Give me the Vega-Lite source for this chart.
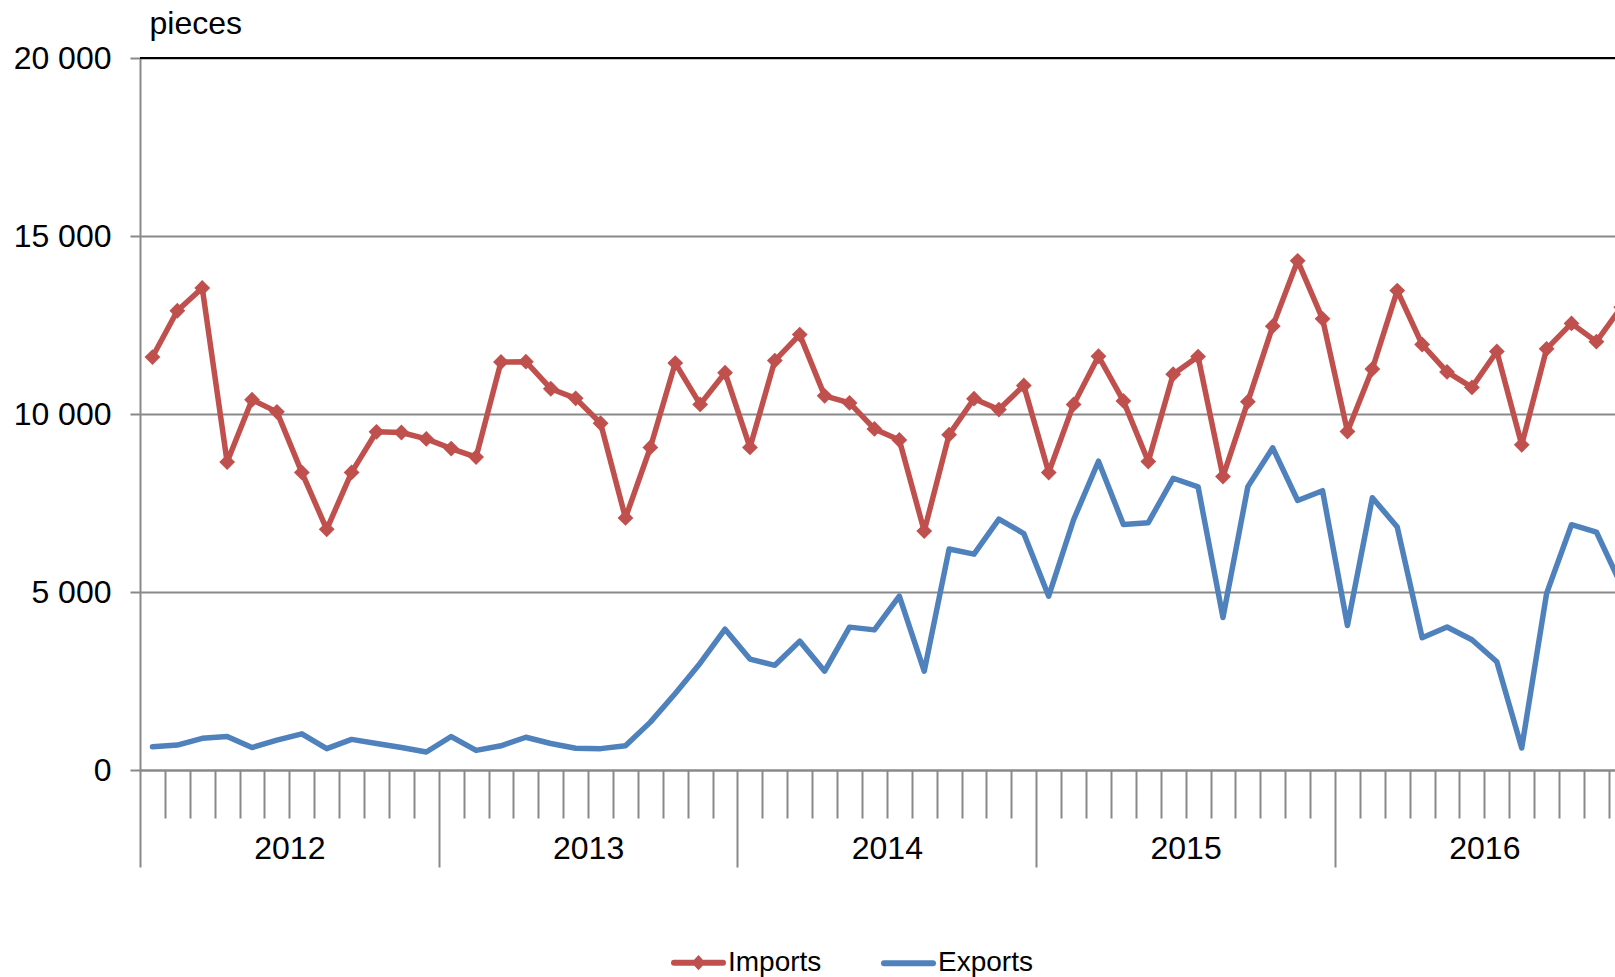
{
"$schema": "https://vega.github.io/schema/vega-lite/v6.json",
"width": 1475,
"height": 712,
"autosize": {"type": "none"},
"padding": {"left": 140, "top": 58, "right": 0, "bottom": 207},
"background": "white",
"config": {"font": "Liberation Sans", "view": {"stroke": null}},
"data": {"values": [
{"month":"2012-01","t":0.5,"series":"Imports","value":11600},{"month":"2012-02","t":1.5,"series":"Imports","value":12900},{"month":"2012-03","t":2.5,"series":"Imports","value":13540},{"month":"2012-04","t":3.5,"series":"Imports","value":8650},{"month":"2012-05","t":4.5,"series":"Imports","value":10400},{"month":"2012-06","t":5.5,"series":"Imports","value":10060},{"month":"2012-07","t":6.5,"series":"Imports","value":8360},{"month":"2012-08","t":7.5,"series":"Imports","value":6760},{"month":"2012-09","t":8.5,"series":"Imports","value":8360},{"month":"2012-10","t":9.5,"series":"Imports","value":9500},{"month":"2012-11","t":10.5,"series":"Imports","value":9480},{"month":"2012-12","t":11.5,"series":"Imports","value":9300},
{"month":"2013-01","t":12.5,"series":"Imports","value":9030},{"month":"2013-02","t":13.5,"series":"Imports","value":8790},{"month":"2013-03","t":14.5,"series":"Imports","value":11460},{"month":"2013-04","t":15.5,"series":"Imports","value":11470},{"month":"2013-05","t":16.5,"series":"Imports","value":10710},{"month":"2013-06","t":17.5,"series":"Imports","value":10440},{"month":"2013-07","t":18.5,"series":"Imports","value":9740},{"month":"2013-08","t":19.5,"series":"Imports","value":7080},{"month":"2013-09","t":20.5,"series":"Imports","value":9060},{"month":"2013-10","t":21.5,"series":"Imports","value":11430},{"month":"2013-11","t":22.5,"series":"Imports","value":10270},{"month":"2013-12","t":23.5,"series":"Imports","value":11160},
{"month":"2014-01","t":24.5,"series":"Imports","value":9060},{"month":"2014-02","t":25.5,"series":"Imports","value":11500},{"month":"2014-03","t":26.5,"series":"Imports","value":12230},{"month":"2014-04","t":27.5,"series":"Imports","value":10510},{"month":"2014-05","t":28.5,"series":"Imports","value":10310},{"month":"2014-06","t":29.5,"series":"Imports","value":9580},{"month":"2014-07","t":30.5,"series":"Imports","value":9270},{"month":"2014-08","t":31.5,"series":"Imports","value":6710},{"month":"2014-09","t":32.5,"series":"Imports","value":9420},{"month":"2014-10","t":33.5,"series":"Imports","value":10430},{"month":"2014-11","t":34.5,"series":"Imports","value":10125},{"month":"2014-12","t":35.5,"series":"Imports","value":10800},
{"month":"2015-01","t":36.5,"series":"Imports","value":8355},{"month":"2015-02","t":37.5,"series":"Imports","value":10270},{"month":"2015-03","t":38.5,"series":"Imports","value":11623},{"month":"2015-04","t":39.5,"series":"Imports","value":10368},{"month":"2015-05","t":40.5,"series":"Imports","value":8664},{"month":"2015-06","t":41.5,"series":"Imports","value":11118},{"month":"2015-07","t":42.5,"series":"Imports","value":11612},{"month":"2015-08","t":43.5,"series":"Imports","value":8243},{"month":"2015-09","t":44.5,"series":"Imports","value":10346},{"month":"2015-10","t":45.5,"series":"Imports","value":12468},{"month":"2015-11","t":46.5,"series":"Imports","value":14303},{"month":"2015-12","t":47.5,"series":"Imports","value":12674},
{"month":"2016-01","t":48.5,"series":"Imports","value":9509},{"month":"2016-02","t":49.5,"series":"Imports","value":11264},{"month":"2016-03","t":50.5,"series":"Imports","value":13466},{"month":"2016-04","t":51.5,"series":"Imports","value":11952},{"month":"2016-05","t":52.5,"series":"Imports","value":11183},{"month":"2016-06","t":53.5,"series":"Imports","value":10747},{"month":"2016-07","t":54.5,"series":"Imports","value":11757},{"month":"2016-08","t":55.5,"series":"Imports","value":9135},{"month":"2016-09","t":56.5,"series":"Imports","value":11830},{"month":"2016-10","t":57.5,"series":"Imports","value":12545},{"month":"2016-11","t":58.5,"series":"Imports","value":12032},{"month":"2016-12","t":59.5,"series":"Imports","value":13000},
{"month":"2012-01","t":0.5,"series":"Exports","value":650},{"month":"2012-02","t":1.5,"series":"Exports","value":700},{"month":"2012-03","t":2.5,"series":"Exports","value":890},{"month":"2012-04","t":3.5,"series":"Exports","value":940},{"month":"2012-05","t":4.5,"series":"Exports","value":630},{"month":"2012-06","t":5.5,"series":"Exports","value":840},{"month":"2012-07","t":6.5,"series":"Exports","value":1015},{"month":"2012-08","t":7.5,"series":"Exports","value":600},{"month":"2012-09","t":8.5,"series":"Exports","value":860},{"month":"2012-10","t":9.5,"series":"Exports","value":745},{"month":"2012-11","t":10.5,"series":"Exports","value":630},{"month":"2012-12","t":11.5,"series":"Exports","value":505},
{"month":"2013-01","t":12.5,"series":"Exports","value":940},{"month":"2013-02","t":13.5,"series":"Exports","value":550},{"month":"2013-03","t":14.5,"series":"Exports","value":680},{"month":"2013-04","t":15.5,"series":"Exports","value":920},{"month":"2013-05","t":16.5,"series":"Exports","value":745},{"month":"2013-06","t":17.5,"series":"Exports","value":610},{"month":"2013-07","t":18.5,"series":"Exports","value":600},{"month":"2013-08","t":19.5,"series":"Exports","value":680},{"month":"2013-09","t":20.5,"series":"Exports","value":1345},{"month":"2013-10","t":21.5,"series":"Exports","value":2150},{"month":"2013-11","t":22.5,"series":"Exports","value":3000},{"month":"2013-12","t":23.5,"series":"Exports","value":3955},
{"month":"2014-01","t":24.5,"series":"Exports","value":3115},{"month":"2014-02","t":25.5,"series":"Exports","value":2940},{"month":"2014-03","t":26.5,"series":"Exports","value":3620},{"month":"2014-04","t":27.5,"series":"Exports","value":2775},{"month":"2014-05","t":28.5,"series":"Exports","value":4013},{"month":"2014-06","t":29.5,"series":"Exports","value":3936},{"month":"2014-07","t":30.5,"series":"Exports","value":4883},{"month":"2014-08","t":31.5,"series":"Exports","value":2775},{"month":"2014-09","t":32.5,"series":"Exports","value":6208},{"month":"2014-10","t":33.5,"series":"Exports","value":6063},{"month":"2014-11","t":34.5,"series":"Exports","value":7049},{"month":"2014-12","t":35.5,"series":"Exports","value":6643},
{"month":"2015-01","t":36.5,"series":"Exports","value":4883},{"month":"2015-02","t":37.5,"series":"Exports","value":7030},{"month":"2015-03","t":38.5,"series":"Exports","value":8674},{"month":"2015-04","t":39.5,"series":"Exports","value":6895},{"month":"2015-05","t":40.5,"series":"Exports","value":6948},{"month":"2015-06","t":41.5,"series":"Exports","value":8195},{"month":"2015-07","t":42.5,"series":"Exports","value":7955},{"month":"2015-08","t":43.5,"series":"Exports","value":4282},{"month":"2015-09","t":44.5,"series":"Exports","value":7960},{"month":"2015-10","t":45.5,"series":"Exports","value":9050},{"month":"2015-11","t":46.5,"series":"Exports","value":7570},{"month":"2015-12","t":47.5,"series":"Exports","value":7845},
{"month":"2016-01","t":48.5,"series":"Exports","value":4060},{"month":"2016-02","t":49.5,"series":"Exports","value":7650},{"month":"2016-03","t":50.5,"series":"Exports","value":6825},{"month":"2016-04","t":51.5,"series":"Exports","value":3716},{"month":"2016-05","t":52.5,"series":"Exports","value":4015},{"month":"2016-06","t":53.5,"series":"Exports","value":3659},{"month":"2016-07","t":54.5,"series":"Exports","value":3040},{"month":"2016-08","t":55.5,"series":"Exports","value":619},{"month":"2016-09","t":56.5,"series":"Exports","value":4960},{"month":"2016-10","t":57.5,"series":"Exports","value":6890},{"month":"2016-11","t":58.5,"series":"Exports","value":6685},{"month":"2016-12","t":59.5,"series":"Exports","value":5190}
]},
"layer": [
  {"mark": {"type": "line", "strokeWidth": 5.5, "strokeJoin": "round", "strokeCap": "round", "clip": true},
   "encoding": {
     "x": {"field": "t", "type": "quantitative",
       "scale": {"domain": [0, 59.247], "nice": false, "zero": false},
       "axis": {"orient": "bottom", "values": [0,1,2,3,4,5,6,7,8,9,10,11,12,13,14,15,16,17,18,19,20,21,22,23,24,25,26,27,28,29,30,31,32,33,34,35,36,37,38,39,40,41,42,43,44,45,46,47,48,49,50,51,52,53,54,55,56,57,58,59],
         "labels": false, "grid": false, "title": null,
         "domainColor": "#898989", "domainWidth": 2, "tickColor": "#898989", "tickWidth": 2,
         "tickSize": {"condition": {"test": "datum.value % 12 === 0", "value": 97}, "value": 48}}},
     "y": {"field": "value", "type": "quantitative",
       "scale": {"domain": [0, 20000], "nice": false, "zero": true},
       "axis": {"orient": "left", "values": [0, 5000, 10000, 15000, 20000], "grid": true, "gridColor": "#898989", "gridWidth": 2,
         "domainColor": "#898989", "domainWidth": 2, "tickColor": "#898989", "tickWidth": 2, "tickSize": 10,
         "labelFontSize": 32, "labelFont": "Liberation Sans", "labelColor": "#000000", "labelPadding": 19,
         "labelBaseline": "middle", "labelFlush": false, "labelOverlap": false,
         "labelExpr": "replace(format(datum.value, ','), ',', ' ')",
         "title": "pieces", "titleAngle": 0, "titleAlign": "left", "titleBaseline": "alphabetic",
         "titleX": 9, "titleY": -25, "titleFontSize": 32, "titleFontWeight": "normal", "titleFont": "Liberation Sans", "titleColor": "#000000"}},
     "color": {"field": "series", "type": "nominal",
       "scale": {"domain": ["Imports", "Exports"], "range": ["#C0504D", "#4F81BD"]},
       "legend": {"orient": "none", "legendX": 531, "legendY": 877, "direction": "horizontal", "title": null,
         "labelFontSize": 28, "labelFont": "Liberation Sans", "labelColor": "#000000", "labelOffset": 2,
         "symbolSize": 2401, "symbolStrokeWidth": 6, "columnPadding": 50, "symbolType": "M-1,0H1",
         "encode": {"symbols": {"update": {
           "shape": {"signal": "datum.value === 'Imports' ? 'M-1,0H1M-0.12,0L0,-0.13L0.12,0L0,0.13Z' : 'M-1,0H1'"},
           "fill": {"signal": "datum.value === 'Imports' ? '#C0504D' : 'transparent'"},
           "strokeCap": {"value": "round"}}}}}}
   }},
  {"transform": [{"filter": "datum.series === 'Imports'"}],
   "mark": {"type": "point", "shape": "diamond", "filled": true, "size": 250, "color": "#C0504D", "opacity": 1, "clip": true},
   "encoding": {
     "x": {"field": "t", "type": "quantitative",
       "scale": {"domain": [0, 59.247], "nice": false, "zero": false},
       "axis": {"orient": "bottom", "values": [6, 18, 30, 42, 54], "ticks": false, "domain": false, "grid": false, "title": null,
         "labelExpr": "'' + (2012 + floor(datum.value / 12))", "labelFontSize": 32, "labelFont": "Liberation Sans",
         "labelColor": "#000000", "labelPadding": 88, "labelBaseline": "alphabetic", "labelFlush": false, "labelOverlap": false}},
     "y": {"field": "value", "type": "quantitative", "scale": {"domain": [0, 20000], "nice": false, "zero": true}}
   }},
  {"mark": {"type": "rule", "color": "#000000", "strokeWidth": 2},
   "encoding": {"y": {"datum": 20000, "type": "quantitative"}}}
],
"resolve": {"axis": {"x": "independent", "y": "shared"}}
}
